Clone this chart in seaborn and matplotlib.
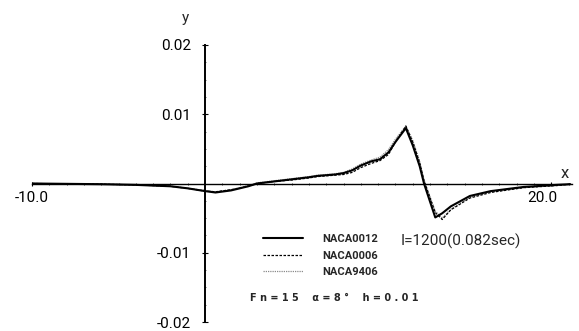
import numpy as np
import pandas as pd
import matplotlib
matplotlib.use("Agg")
import matplotlib.pyplot as plt
import matplotlib.transforms as mtransforms
import seaborn as sns
from matplotlib.ticker import MultipleLocator, FixedLocator

# Free-surface elevation along the x axis for three foil sections
x_pos = [-10, -8, -6, -4, -3, -2, -1, 0, 0.6, 1.5, 2.5, 3.0, 4.0, 5.0, 6.0, 6.5,
         7.5, 8.0, 8.5, 9.0, 9.6, 10.1, 10.6, 11.0, 11.6, 12.0, 12.4, 12.65,
         13.3, 13.7, 14.2, 15.3, 16.5, 18.4, 20.3, 21.1]

y_naca0012 = [0.0, -0.00005, -0.0001, -0.0002, -0.0003, -0.0004, -0.0007, -0.0011,
              -0.0013, -0.0010, -0.0004, 0.0, 0.0003, 0.0006, 0.0009, 0.0011,
              0.0013, 0.0015, 0.0019, 0.0026, 0.0032, 0.0035, 0.0045, 0.0060,
              0.0080, 0.0055, 0.0025, 0.0, -0.0049, -0.0043, -0.0033, -0.0018,
              -0.0011, -0.0005, -0.0002, -0.0001]

y_naca0006 = [0.0, -0.00005, -0.0001, -0.0002, -0.0003, -0.0004, -0.0007, -0.0011,
              -0.0012, -0.0009, -0.0004, 0.0, 0.0003, 0.0005, 0.0008, 0.0010,
              0.0012, 0.0013, 0.0016, 0.0023, 0.0029, 0.0033, 0.0042, 0.0060,
              0.0083, 0.0060, 0.0030, 0.0004, -0.0042, -0.0052, -0.0038, -0.0021,
              -0.0013, -0.0006, -0.0003, -0.0001]

y_naca9406 = [0.0, -0.00005, -0.0001, -0.0002, -0.0003, -0.0004, -0.0007, -0.0010,
              -0.0012, -0.0009, -0.0003, 0.0001, 0.0004, 0.0007, 0.0010, 0.0012,
              0.0014, 0.0016, 0.0021, 0.0028, 0.0034, 0.0038, 0.0049, 0.0064,
              0.0083, 0.0062, 0.0032, 0.0005, -0.0040, -0.0050, -0.0037, -0.0020,
              -0.0012, -0.0006, -0.0003, -0.0001]

series_names = ["NACA0012", "NACA0006", "NACA9406"]
x_tick_values = [-10, 20]
x_tick_labels = ["-10.0", "20.0"]
y_tick_values = [-0.02, -0.01, 0.01, 0.02]
y_tick_labels = ["-0.02", "-0.01", "0.01", "0.02"]

df = pd.DataFrame({
    "x": x_pos * 3,
    "y": y_naca0012 + y_naca0006 + y_naca9406,
    "foil": np.repeat(series_names, len(x_pos)),
})

sns.set_theme(style="white")
plt.rcParams["font.family"] = ["Roboto", "DejaVu Sans"]

fig = plt.figure(figsize=(5.79, 3.31), dpi=100)
ax = fig.add_axes([32 / 579, 9 / 331, 540 / 579, 277 / 331])

styles = {
    "NACA0012": dict(color="black", linewidth=1.5, linestyle="-"),
    "NACA0006": dict(color="black", linewidth=0.9, linestyle=(0, (2.0, 1.2))),
    "NACA9406": dict(color="#8a8a8a", linewidth=0.9, linestyle=(0, (1.0, 0.8))),
}
for name in series_names[::-1]:
    sns.lineplot(data=df[df["foil"] == name], x="x", y="y", ax=ax,
                 label=name, estimator=None, sort=False, **styles[name])

ax.set_xlim(-10, 21.2)
ax.set_ylim(-0.02, 0.02)

for side in ("top", "right"):
    ax.spines[side].set_visible(False)
ax.spines["left"].set_position(("data", 0))
ax.spines["bottom"].set_position(("data", 0))
ax.spines["left"].set_color("black")
ax.spines["left"].set_linewidth(1.4)
ax.spines["bottom"].set_color("black")
ax.spines["bottom"].set_linewidth(1.0)

ax.xaxis.set_major_locator(FixedLocator(x_tick_values))
ax.set_xticklabels(x_tick_labels, fontsize=11)
ax.xaxis.set_minor_locator(MultipleLocator(1))
ax.yaxis.set_major_locator(FixedLocator(y_tick_values))
ax.set_yticklabels(y_tick_labels, fontsize=11)
ax.yaxis.set_minor_locator(MultipleLocator(0.0025))
ax.tick_params(axis="x", which="major", direction="inout", length=3, width=0.8,
               pad=4, colors="black", bottom=True)
ax.tick_params(axis="x", which="minor", direction="inout", length=2, width=0.6,
               bottom=True)
ax.tick_params(axis="y", which="major", direction="inout", length=4, width=0.8,
               pad=8, colors="black", left=True)
ax.tick_params(axis="y", which="minor", direction="inout", length=1.5, width=0.5,
               left=True)
xlabels = ax.get_xticklabels()
xlabels[0].set_horizontalalignment("center")
xlabels[1].set_horizontalalignment("right")
nudge = mtransforms.ScaledTranslation(6 / 100, 0, fig.dpi_scale_trans)
xlabels[1].set_transform(xlabels[1].get_transform() + nudge)

ax.set_xlabel("")
ax.set_ylabel("")
fig.text(185 / 579, 1 - 18 / 331, "y", fontsize=11, ha="center", va="center")
fig.text(565 / 579, 1 - 173 / 331, "x", fontsize=12, ha="center", va="center")

leg = ax.legend(handles=[ax.get_legend_handles_labels()[0][i] for i in (2, 1, 0)],
                labels=series_names, loc="upper left",
                bbox_to_anchor=(253 / 579, 1 - 224 / 331),
                bbox_transform=fig.transFigure, frameon=False,
                handlelength=3.6, handletextpad=1.7, labelspacing=0.6,
                prop={"weight": "bold", "size": 8})

fig.text(401 / 579, 1 - 241 / 331, "I=1200(0.082sec)", fontsize=11,
         ha="left", va="center")
fig.text(250 / 579, 1 - 298 / 331,
         "F n = 1 5    \u03b1 = 8 \u00b0    h = 0 . 0 1",
         family="DejaVu Sans", fontsize=7, weight="bold", ha="left", va="center")

fig.savefig("out.png", dpi=100)
